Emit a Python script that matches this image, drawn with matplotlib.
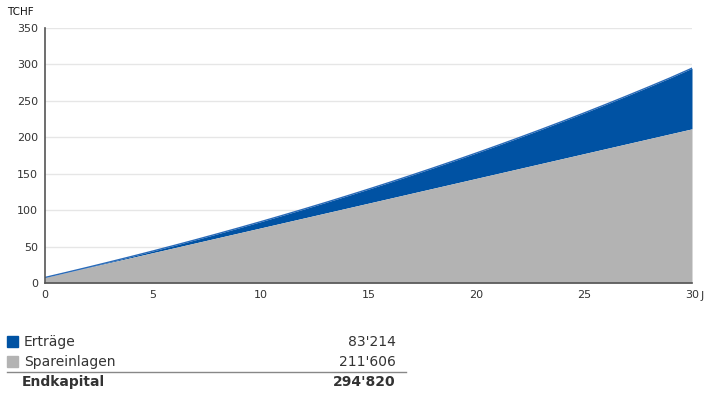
import matplotlib
matplotlib.use("Agg")
import matplotlib.pyplot as plt

years = list(range(0, 31))
total = [7.6, 14.56, 21.67, 28.92, 36.33, 43.89, 51.61, 59.49, 67.54, 75.76,
         84.15, 92.72, 101.47, 110.40, 119.52, 128.83, 138.34, 148.05, 157.96, 168.08,
         178.41, 188.96, 199.73, 210.72, 221.95, 233.41, 245.11, 257.06, 269.26, 281.71,
         294.82]
spareinlagen = [7.6, 14.4, 21.2, 28.0, 34.8, 41.6, 48.4, 55.2, 62.0, 68.8,
                75.6, 82.4, 89.2, 96.0, 102.8, 109.6, 116.4, 123.2, 130.0, 136.8,
                143.6, 150.4, 157.2, 164.0, 170.8, 177.6, 184.4, 191.2, 198.0, 204.8,
                211.6]
x_ticks = [0, 5, 10, 15, 20, 25, 30]
y_ticks = [0, 50, 100, 150, 200, 250, 300, 350]
legend_labels = ["Erträge", "Spareinlagen"]
legend_values = ["83'214", "211'606"]
total_label = "Endkapital"
total_value = "294'820"

BLUE = "#0052a3"
GRAY = "#b3b3b3"
TXT = "#333333"

W, H = 709, 395
fig = plt.figure(figsize=(W / 100, H / 100), dpi=100)
ax = fig.add_axes([45 / W, 1 - 283 / H, (692 - 45) / W, (283 - 28) / H])

ax.fill_between(years, spareinlagen, total, color=BLUE, linewidth=0)
ax.plot(years, total, color="#2a6ab8", linewidth=1.0)
ax.fill_between(years, 0, spareinlagen, color=GRAY, linewidth=0)

ax.set_xlim(0, 30)
ax.set_ylim(0, 350)
ax.set_xticks(x_ticks)
ax.set_yticks(y_ticks)
ax.grid(axis="y", color="#e6e6e6", linewidth=1)
ax.set_axisbelow(True)
for s in ["top", "right"]:
    ax.spines[s].set_visible(False)
for s in ["left", "bottom"]:
    ax.spines[s].set_color("#555555")
    ax.spines[s].set_linewidth(1.2)
ax.tick_params(axis="both", length=0, labelsize=8, colors=TXT, pad=5)
ax.spines["left"].set_zorder(5)
ax.spines["bottom"].set_zorder(5)

fig.text(7 / W, 1 - 12 / H, "TCHF", fontsize=7.5, color="#111111", va="center", ha="left")
fig.text(701 / W, 1 - 296 / H, "J", fontsize=8, color=TXT, va="center", ha="left")

# Legend table
colors = [BLUE, GRAY]
rows_y = [342, 362]
for lab, val, c, yy in zip(legend_labels, legend_values, colors, rows_y):
    fig.patches.append(plt.Rectangle((7 / W, 1 - (yy + 5) / H), 11 / W, 11 / H,
                                     transform=fig.transFigure, color=c))
    fig.text(24 / W, 1 - yy / H, lab, fontsize=10, color=TXT, va="center", ha="left")
    fig.text(396 / W, 1 - yy / H, val, fontsize=10, color=TXT, va="center", ha="right")
fig.add_artist(plt.Line2D([7 / W, 406 / W], [1 - 372 / H, 1 - 372 / H],
                          transform=fig.transFigure, color="#888888", linewidth=1))
fig.text(22 / W, 1 - 382 / H, total_label, fontsize=10, fontweight="bold",
         color=TXT, va="center", ha="left")
fig.text(396 / W, 1 - 382 / H, total_value, fontsize=10, fontweight="bold",
         color=TXT, va="center", ha="right")

fig.savefig("out.png", dpi=100)
